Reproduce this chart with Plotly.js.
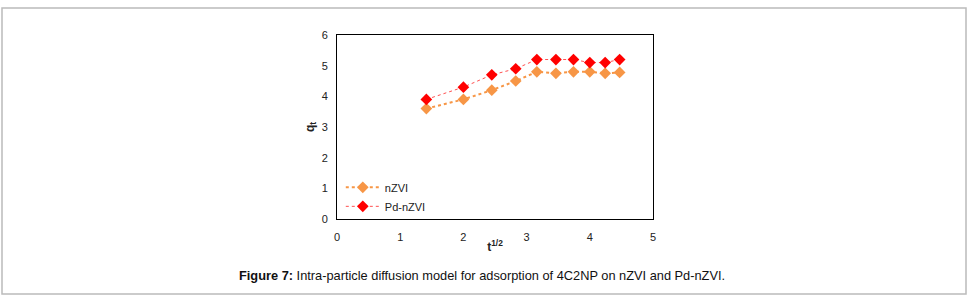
<!DOCTYPE html>
<html>
<head>
<meta charset="utf-8">
<script src="https://cdn.plot.ly/plotly-3.0.1.min.js"></script>
<style>
html,body{margin:0;padding:0;background:#fff;}
#chart{width:972px;height:305px;}
</style>
</head>
<body>
<div id="chart"></div>
<script>
const xValues = [1.414, 2, 2.449, 2.828, 3.162, 3.464, 3.742, 4, 4.243, 4.472];
const nZVI = [3.6, 3.9, 4.2, 4.5, 4.8, 4.75, 4.8, 4.8, 4.75, 4.78];
const PdnZVI = [3.9, 4.3, 4.7, 4.9, 5.2, 5.2, 5.2, 5.1, 5.1, 5.2];
const seriesNames = ['nZVI', 'Pd-nZVI'];
const xTicks = [0, 1, 2, 3, 4, 5];
const yTicks = [0, 1, 2, 3, 4, 5, 6];
const caption = '<b>Figure 7:</b> Intra-particle diffusion model for adsorption of 4C2NP on nZVI and Pd-nZVI.';

const traces = [
  {
    x: xValues, y: nZVI, name: seriesNames[0], type: 'scatter', mode: 'lines+markers',
    line: {color: '#F79646', width: 2, dash: 'dot'},
    marker: {symbol: 'diamond', size: 9, color: '#F79646'}
  },
  {
    x: xValues, y: PdnZVI, name: seriesNames[1], type: 'scatter', mode: 'lines+markers',
    line: {color: '#FF5050', width: 1, dash: 'dot'},
    marker: {symbol: 'diamond', size: 9, color: '#FF0000'}
  }
];

const layout = {
  width: 972, height: 305,
  margin: {l: 337, r: 319, t: 35, b: 86},
  paper_bgcolor: '#ffffff', plot_bgcolor: '#ffffff',
  font: {family: 'Liberation Sans, Arial, sans-serif', size: 11, color: '#222'},
  showlegend: true,
  legend: {x: 0.012, y: -0.01, xanchor: 'left', yanchor: 'bottom', bgcolor: 'rgba(0,0,0,0)',
           font: {size: 11, color: '#222'}, tracegroupgap: 2, itemwidth: 34},
  xaxis: {
    range: [0, 5], tickvals: xTicks, ticks: '', showgrid: false, zeroline: false,
    showline: true, linecolor: '#000', linewidth: 1, mirror: true,
    ticklabelstandoff: 8,
    title: {text: '<b>t<sup>1/2</sup></b>', font: {size: 12, color: '#222'}, standoff: 0}
  },
  yaxis: {
    range: [0, 6], tickvals: yTicks, ticks: '', showgrid: false, zeroline: false,
    showline: true, linecolor: '#000', linewidth: 1, mirror: true,
    ticklabelstandoff: 6,
    title: {text: '<b>q<sub>t</sub></b>', font: {size: 12, color: '#222'}, standoff: 4}
  },
  shapes: [{
    type: 'rect', xref: 'paper', yref: 'paper',
    x0: (2 - 337) / 316, x1: (966 - 337) / 316,
    y0: (219 - 294) / 184, y1: (219 - 8) / 184,
    line: {color: '#bbbbbb', width: 1.5}, fillcolor: 'rgba(0,0,0,0)', layer: 'below'
  }],
  annotations: [{
    text: caption, xref: 'paper', yref: 'paper',
    x: (482 - 337) / 316, y: (219 - 275) / 184, xanchor: 'center', yanchor: 'middle',
    showarrow: false, font: {size: 12.8, color: '#111'}
  }]
};

Plotly.newPlot('chart', traces, layout, {displayModeBar: false, staticPlot: true});
</script>
</body>
</html>
